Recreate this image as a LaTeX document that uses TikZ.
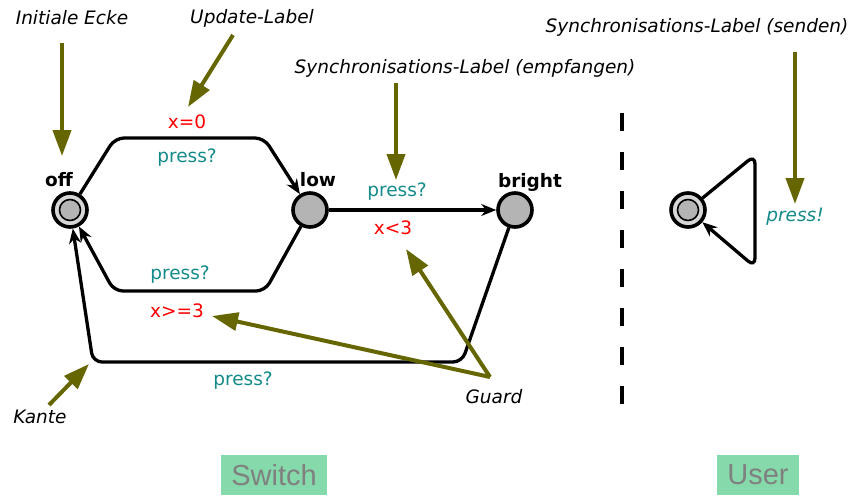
\documentclass[tikz,border=0pt]{standalone}
\usepackage{fontspec}
\setmainfont{DejaVu Sans}
\newfontfamily\arialfont{Liberation Sans}
\usetikzlibrary{arrows.meta}
\definecolor{olivec}{RGB}{102,102,0}
\definecolor{tealc}{RGB}{20,138,138}
\definecolor{redc}{RGB}{255,0,0}
\definecolor{nodegray}{RGB}{180,180,180}
\definecolor{ringgray}{RGB}{215,215,215}
\definecolor{boxgreen}{RGB}{134,217,170}
\definecolor{boxtext}{RGB}{128,128,128}
\begin{document}
\begin{tikzpicture}[x=1pt,y=-1pt,
  state/.style={circle, draw=black, line width=3.6pt, fill=nodegray, minimum size=34pt, inner sep=0pt},
  initstate/.style={state, fill=ringgray},
  edge/.style={draw=black, line width=3.3pt, rounded corners=9pt, -{Stealth[length=15pt,width=12pt]}},
  ann/.style={draw=olivec, line width=4pt, -{Triangle[length=26pt,width=18pt]}},
  anntext/.style={font=\fontsize{18.5}{22}\selectfont\itshape, text=black, inner sep=0pt},
  lbl/.style={font=\fontsize{18.5}{22}\selectfont, inner sep=0pt},
  sync/.style={lbl, text=tealc},
  guardl/.style={lbl, text=redc},
  sname/.style={font=\fontsize{18.5}{22}\selectfont\bfseries, inner sep=0pt},
  boxl/.style={font=\arialfont\fontsize{29}{32}\selectfont, text=boxtext, fill=boxgreen, inner sep=0pt, minimum height=40pt}
]
\useasboundingbox (0,0) rectangle (856,495);

% states
\node[initstate] (off) at (70,210) {};
\draw[line width=1.6pt, fill=nodegray] (off.center) circle (10.5);
\node[state] (low) at (310,210) {};
\node[state] (bright) at (515,210) {};
\node[initstate] (usr) at (688,210) {};
\draw[line width=1.6pt, fill=nodegray] (usr.center) circle (10.5);

\node[sname] (offl) at (59,180) {off};
\node[sname] (lowl) at (318,180) {low};
\node[sname] (brightl) at (530,182) {bright};

% corners
\coordinate (t1) at (115,138);
\coordinate (t2) at (264,138);
\coordinate (b1) at (265,291);
\coordinate (b2) at (114,291);
\coordinate (l1) at (462,362);
\coordinate (l2) at (93,362);
\coordinate (u1) at (755,155);
\coordinate (u2) at (755,267);

% edges
\draw[edge] (off) -- (t1) -- (t2) -- (low);
\draw[edge] (low) -- (bright);
\draw[edge] (low) -- (b1) -- (b2) -- (off);
\draw[edge] (bright) -- (l1) -- (l2) -- (off);
\draw[edge] (usr) -- (u1) -- (u2) -- (usr);

% edge labels
\node[guardl] (g0) at (187,122) {x=0};
\node[sync] (s0) at (187,158) {press?};
\node[sync] (s1) at (397,192) {press?};
\node[guardl] (g1) at (393,228) {x<3};
\node[sync] (s2) at (180,275) {press?};
\node[guardl] (g2) at (177,311) {x>=3};
\node[sync] (s3) at (243,381) {press?};
\node[sync, font=\fontsize{18.5}{22}\selectfont\itshape] (s4) at (795,217) {press!};

% dashed separator
\coordinate (d1) at (622,113);
\coordinate (d2) at (622,404);
\draw[line width=3.8pt, dash pattern=on 18pt off 21pt] (d1) -- (d2);

% annotations
\node[anntext] (tInit) at (72,18) {Initiale Ecke};
\node[anntext] (tUpd) at (252,18) {Update-Label};
\node[anntext] (tSe) at (465,68) {Synchronisations-Label (empfangen)};
\node[anntext] (tSs) at (697,27) {Synchronisations-Label (senden)};
\node[anntext] (tGuard) at (494,397) {Guard};
\node[anntext] (tKante) at (40,417) {Kante};

\coordinate (a1s) at (62,43);   \coordinate (a1e) at (62,156);
\coordinate (a2s) at (233,35);  \coordinate (a2e) at (188,107);
\coordinate (a3s) at (396,83);  \coordinate (a3e) at (396,180);
\coordinate (a4s) at (795,52);  \coordinate (a4e) at (795,204);
\coordinate (a5s) at (490,377); \coordinate (a5e) at (406,249);
\coordinate (a6e) at (212,316);
\coordinate (a7s) at (49,405);  \coordinate (a7e) at (89,364);

\draw[ann] (a1s) -- (a1e);
\draw[ann] (a2s) -- (a2e);
\draw[ann] (a3s) -- (a3e);
\draw[ann] (a4s) -- (a4e);
\draw[ann] (a5s) -- (a5e);
\draw[ann] (a5s) -- (a6e);
\draw[ann] (a7s) -- (a7e);

% boxes
\node[boxl, minimum width=106pt] (sw) at (274,475) {Switch};
\node[boxl, minimum width=82pt] (us) at (758,475) {User};
\end{tikzpicture}
\end{document}
